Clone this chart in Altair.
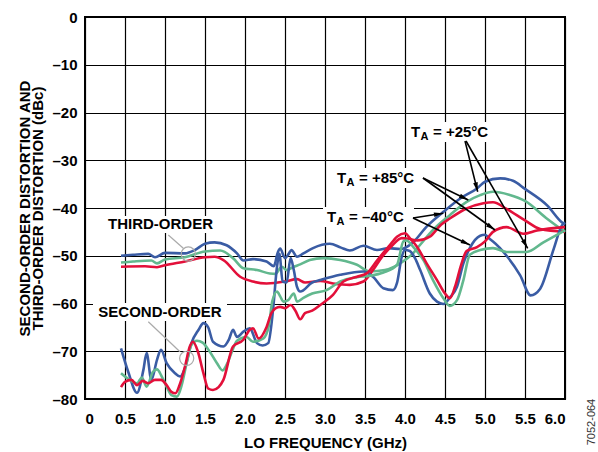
import math
import altair as alt
import pandas as pd

# ---------------- data ----------------
# Third-order distortion
t3_m40_ghz = [0.45, 0.6, 0.79, 0.875, 1.0, 1.25, 1.375, 1.5, 1.62, 1.77, 1.9, 1.98, 2.1, 2.27, 2.36, 2.41, 2.44, 2.5, 2.55, 2.58, 2.65, 2.73, 2.85, 3.06, 3.2, 3.31, 3.48, 3.65, 3.8, 3.94, 4.1, 4.27, 4.48, 4.69, 4.9, 5.0, 5.19, 5.35, 5.5, 5.78, 5.96, 6.0]
t3_m40_dbc = [-50.0, -49.8, -49.6, -50.3, -49.4, -49.5, -48.8, -47.5, -47.2, -47.8, -49.5, -51.0, -50.7, -51.2, -52.2, -49.3, -48.5, -50.5, -49.5, -48.8, -50.2, -49.5, -48.4, -47.5, -48.3, -48.9, -47.9, -48.8, -48.4, -48.6, -47.2, -43.9, -40.8, -38.0, -35.9, -34.5, -33.8, -34.3, -36.0, -39.5, -43.0, -43.5]

t3_p25_ghz = [0.45, 0.6, 0.83, 0.9, 1.0, 1.25, 1.5, 1.69, 1.85, 1.98, 2.15, 2.31, 2.38, 2.46, 2.52, 2.6, 2.69, 2.81, 2.98, 3.19, 3.4, 3.56, 3.75, 3.94, 4.1, 4.19, 4.35, 4.56, 4.77, 4.94, 5.1, 5.3, 5.5, 5.78, 6.0]
t3_p25_dbc = [-51.4, -51.2, -51.0, -51.6, -50.8, -50.3, -49.1, -48.9, -50.5, -52.6, -53.0, -53.7, -53.8, -52.3, -53.0, -52.4, -51.8, -50.9, -50.5, -50.9, -51.9, -53.3, -53.0, -51.6, -49.5, -47.7, -44.6, -41.5, -38.7, -37.3, -36.6, -37.2, -38.5, -42.3, -45.0]

t3_p85_ghz = [0.45, 0.75, 0.9, 1.0, 1.25, 1.5, 1.62, 1.73, 1.94, 2.1, 2.27, 2.5, 2.65, 2.75, 2.94, 3.1, 3.31, 3.48, 3.6, 3.71, 3.83, 3.96, 4.06, 4.15, 4.31, 4.45, 4.56, 4.77, 4.98, 5.1, 5.27, 5.5, 5.69, 6.0]
t3_p85_dbc = [-52.3, -52.2, -52.4, -52.0, -51.2, -50.3, -50.2, -50.9, -54.4, -55.4, -55.8, -55.4, -54.9, -55.6, -55.3, -55.8, -56.1, -55.4, -53.0, -50.3, -48.0, -46.3, -46.5, -46.8, -46.0, -43.5, -42.2, -40.1, -39.0, -38.8, -40.2, -42.6, -44.4, -45.0]

# Second-order distortion
t2_m40_ghz = [0.45, 0.54, 0.65, 0.73, 0.77, 0.83, 0.9, 0.95, 1.02, 1.125, 1.19, 1.25, 1.33, 1.42, 1.48, 1.54, 1.6, 1.73, 1.8, 1.85, 1.9, 1.98, 2.06, 2.15, 2.22, 2.29, 2.35, 2.4, 2.43, 2.47, 2.52, 2.57, 2.61, 2.65, 2.69, 2.84, 2.94, 3.19, 3.48, 3.6, 3.73, 3.85, 3.9, 3.96, 4.0, 4.06, 4.125, 4.19, 4.31, 4.4, 4.48, 4.56, 4.65, 4.73, 4.81, 4.94, 5.0, 5.06, 5.1, 5.27, 5.44, 5.57, 5.69, 5.86, 5.96, 6.0]
t2_m40_dbc = [-69.4, -74.3, -78.7, -73.9, -70.4, -76.0, -71.8, -69.7, -72.5, -74.6, -75.3, -73.5, -68.3, -65.5, -64.1, -65.0, -68.0, -69.0, -67.5, -65.5, -67.0, -65.9, -65.2, -68.3, -68.8, -68.3, -61.4, -52.3, -49.6, -55.4, -55.6, -50.5, -53.0, -56.5, -57.5, -55.6, -55.1, -54.0, -53.3, -54.4, -56.8, -57.2, -55.7, -50.2, -48.8, -49.0, -50.5, -53.0, -57.9, -59.6, -60.1, -58.8, -56.5, -51.6, -48.4, -45.8, -45.6, -46.5, -47.0, -50.0, -54.1, -58.3, -56.9, -48.5, -43.7, -43.0]

t2_p25_ghz = [0.45, 0.56, 0.65, 0.71, 0.77, 0.85, 0.9, 0.96, 1.02, 1.08, 1.15, 1.21, 1.27, 1.33, 1.4, 1.47, 1.56, 1.65, 1.72, 1.78, 1.85, 1.9, 2.02, 2.1, 2.23, 2.3, 2.34, 2.4, 2.44, 2.48, 2.54, 2.61, 2.65, 2.73, 2.84, 3.02, 3.19, 3.4, 3.56, 3.73, 3.9, 3.98, 4.02, 4.1, 4.15, 4.23, 4.35, 4.48, 4.56, 4.65, 4.73, 4.81, 4.94, 5.1, 5.27, 5.52, 5.73, 6.0]
t2_p25_dbc = [-74.6, -76.0, -76.7, -75.5, -77.4, -74.3, -73.8, -75.3, -77.4, -79.2, -79.5, -77.0, -72.5, -68.7, -67.8, -68.2, -70.1, -72.5, -74.0, -72.5, -69.5, -67.8, -67.0, -68.0, -67.3, -64.5, -59.6, -57.5, -58.5, -59.6, -59.3, -57.9, -59.6, -58.8, -57.9, -57.2, -55.4, -54.5, -54.2, -53.5, -51.9, -47.0, -46.8, -48.1, -49.1, -50.9, -55.1, -58.9, -60.5, -59.3, -55.1, -49.8, -48.8, -48.4, -49.2, -49.2, -47.2, -44.7]

t2_p85_ghz = [0.45, 0.5, 0.58, 0.65, 0.72, 0.79, 0.875, 0.95, 1.02, 1.08, 1.13, 1.19, 1.25, 1.31, 1.35, 1.41, 1.48, 1.54, 1.6, 1.67, 1.73, 1.85, 1.98, 2.06, 2.1, 2.17, 2.27, 2.33, 2.38, 2.44, 2.5, 2.57, 2.63, 2.69, 2.75, 2.84, 2.94, 3.1, 3.23, 3.4, 3.52, 3.65, 3.8, 3.9, 4.0, 4.06, 4.15, 4.27, 4.4, 4.5, 4.56, 4.625, 4.7, 4.77, 4.9, 5.0, 5.1, 5.27, 5.48, 5.65, 6.0]
t2_p85_dbc = [-77.5, -76.4, -76.0, -77.1, -76.2, -76.7, -76.0, -76.0, -77.1, -78.5, -78.8, -76.7, -73.2, -69.0, -68.0, -70.0, -74.6, -77.8, -78.1, -77.5, -76.0, -69.0, -67.6, -65.5, -65.2, -67.3, -64.9, -62.0, -61.0, -60.7, -61.0, -60.3, -61.5, -63.3, -62.0, -61.5, -60.3, -58.2, -55.4, -54.4, -53.7, -51.0, -48.0, -46.0, -45.3, -46.3, -48.1, -51.6, -55.1, -57.9, -58.9, -56.5, -52.0, -49.0, -48.2, -47.0, -45.0, -44.0, -45.4, -44.7, -44.0]

series_names = ["T3 -40C", "T3 +25C", "T3 +85C", "T2 -40C", "T2 +25C", "T2 +85C"]
series_colors = ["#3a5ca4", "#62b88e", "#e3103a", "#3a5ca4", "#62b88e", "#e3103a"]
series_x = [t3_m40_ghz, t3_p25_ghz, t3_p85_ghz, t2_m40_ghz, t2_p25_ghz, t2_p85_ghz]
series_y = [t3_m40_dbc, t3_p25_dbc, t3_p85_dbc, t2_m40_dbc, t2_p25_dbc, t2_p85_dbc]

x_ticks = [0, 0.5, 1.0, 1.5, 2.0, 2.5, 3.0, 3.5, 4.0, 4.5, 5.0, 5.5, 6.0]
y_ticks = [0, -10, -20, -30, -40, -50, -60, -70, -80]

rows = []
for name, xs, ys in zip(series_names, series_x, series_y):
    for i, (xv, yv) in enumerate(zip(xs, ys)):
        rows.append({"series": name, "ghz": xv, "dbc": yv, "seq": i})
df = pd.DataFrame(rows)

# ---------------- layout helpers for annotations ----------------
W, H = 480, 382
PXG = W / 6.0        # px per GHz
PXD = H / 80.0       # px per dB


def gx(px):
    return (px - 85) / PXG


def gy(py):
    return -(py - 17) / PXD


FONT = "Liberation Sans"
XS = alt.Scale(domain=[0, 6], nice=False, zero=False)
YS = alt.Scale(domain=[-80, 0], nice=False, zero=False)

x_axis = alt.Axis(values=x_ticks, labelExpr="datum.value == 0 ? '0' : format(datum.value, '.1f')",
                  grid=True, ticks=False, domain=False, labelFont=FONT, labelFontSize=15,
                  labelFontWeight="bold", labelColor="black", labelPadding=12,
                  titleFont=FONT, titleFontSize=15, titleFontWeight="bold", titleColor="black",
                  titlePadding=9, gridColor="black", gridWidth=1.2, gridOpacity=1)
y_axis = alt.Axis(values=y_ticks, labelExpr="datum.value == 0 ? '0' : '–' + abs(datum.value)",
                  grid=True, ticks=False, domain=False, labelFont=FONT, labelFontSize=15,
                  labelFontWeight="bold", labelColor="black", labelPadding=8,
                  titleFont=FONT, titleFontSize=15, titleFontWeight="bold", titleColor="black",
                  titlePadding=6, titleLineHeight=13, gridColor="black", gridWidth=1.2, gridOpacity=1)
X_TITLE = "LO FREQUENCY (GHz)"
Y_TITLE = ["SECOND-ORDER DISTORTION AND", "THIRD-ORDER DISTORTION (dBc)"]


def X(field="ghz"):
    return alt.X(f"{field}:Q", scale=XS, axis=x_axis, title=X_TITLE)


def Y(field="dbc"):
    return alt.Y(f"{field}:Q", scale=YS, axis=y_axis, title=Y_TITLE)


# white label backgrounds
boxes = pd.DataFrame({
    "ghz": [gx(p) for p in [103, 93, 408, 333, 323]],
    "ghz2": [gx(p) for p in [218, 227, 497, 424, 414]],
    "dbc": [gy(p) for p in [216, 303, 122, 168, 207]],
    "dbc2": [gy(p) for p in [233, 321, 142, 188, 227]],
})

# arrows (data coordinates)
arr_x1 = [gx(465), gx(466), gx(423), gx(423), gx(413), gx(413)]
arr_y1 = [gy(141), gy(141), gy(178), gy(178), gy(218), gy(218)]
arr_x2 = [gx(477.7), gx(527.7), gx(468.3), gx(495), gx(443.3), gx(470)]
arr_y2 = [gy(191.7), gy(248.3), gy(200), gy(230), gy(213.3), gy(245)]
heads = []
for a, b, c, d in zip(arr_x1, arr_y1, arr_x2, arr_y2):
    sdx = (c - a) * PXG
    sdy = -(d - b) * PXD
    L = math.hypot(sdx, sdy)
    ang = math.degrees(math.atan2(sdx, -sdy)) % 360
    back = 5.5
    hx = c - (sdx / L) * back / PXG
    hy = d + (sdy / L) * back / PXD
    heads.append({"ghz": hx, "dbc": hy, "ang": ang})
arrows = pd.DataFrame({"ghz": arr_x1, "dbc": arr_y1, "ghz2": arr_x2, "dbc2": arr_y2})
heads = pd.DataFrame(heads)

# leader lines + circles for order labels
leaders = pd.DataFrame({
    "ghz": [gx(168.3), gx(148.3)], "dbc": [gy(235), gy(321.7)],
    "ghz2": [gx(183.3), gx(180)], "dbc2": [gy(248.3), gy(351.7)],
})
circles = pd.DataFrame({"ghz": [gx(188.3), gx(186.7)], "dbc": [gy(254), gy(358.3)]})
order_labels = pd.DataFrame({"ghz": [gx(160.5), gx(160)], "dbc": [gy(224), gy(312)],
                             "txt": ["THIRD-ORDER", "SECOND-ORDER"]})

temp_labels = pd.DataFrame({
    "ghz": [gx(411), gx(337), gx(327)],
    "dbc": [gy(131.5), gy(178), gy(217)],
    "txt": ["= +25°C", "= +85°C", "= –40°C"],
})

# ---------------- chart ----------------
bg = alt.Chart(boxes).mark_rect(fill="white").encode(
    x=X(), x2="ghz2:Q", y=Y(), y2="dbc2:Q",
)

lines = alt.Chart(df).mark_line(interpolate="monotone", strokeWidth=2.6).encode(
    x=X(), y=Y(),
    color=alt.Color("series:N", scale=alt.Scale(domain=series_names, range=series_colors), legend=None),
    detail="series:N",
    order="seq:Q",
)

leader_rules = alt.Chart(leaders).mark_rule(color="#aaaaaa", strokeWidth=1.2).encode(
    x=X(), y=Y(), x2="ghz2:Q", y2="dbc2:Q")
circle_pts = alt.Chart(circles).mark_point(shape="circle", size=200, color="#aaaaaa",
                                           strokeWidth=1.2, filled=False, opacity=1).encode(x=X(), y=Y())
order_text = alt.Chart(order_labels).mark_text(font=FONT, fontSize=15, fontWeight="bold",
                                               align="center", baseline="middle", color="black").encode(
    x=X(), y=Y(), text="txt:N")

arrow_rules = alt.Chart(arrows).mark_rule(color="black", strokeWidth=1.6).encode(
    x=X(), y=Y(), x2="ghz2:Q", y2="dbc2:Q")
arrow_heads = alt.Chart(heads).mark_point(shape="M0,-1L0.42,0.7L-0.42,0.7Z", size=121, filled=True,
                                          color="black", opacity=1, strokeWidth=0).encode(
    x=X(), y=Y(), angle=alt.Angle("ang:Q", scale=None))

t_text = alt.Chart(temp_labels).mark_text(text="T", font=FONT, fontSize=15, fontWeight="bold",
                                          align="left", baseline="middle", color="black").encode(x=X(), y=Y())
a_text = alt.Chart(temp_labels).mark_text(text="A", font=FONT, fontSize=11, fontWeight="bold",
                                          align="left", baseline="middle", color="black",
                                          dx=9.5, dy=5).encode(x=X(), y=Y())
rest_text = alt.Chart(temp_labels).mark_text(font=FONT, fontSize=15, fontWeight="bold",
                                             align="left", baseline="middle", color="black",
                                             dx=22).encode(x=X(), y=Y(), text="txt:N")

note = alt.Chart(pd.DataFrame({"ghz": [gx(592)], "dbc": [gy(422)], "txt": ["7052-064"]})).mark_text(
    font=FONT, fontSize=11, angle=270, align="center", baseline="middle", color="#333333").encode(
    x=X(), y=Y(), text="txt:N")

chart = alt.layer(bg, lines, leader_rules, circle_pts, order_text, arrow_rules, arrow_heads,
                  t_text, a_text, rest_text, note).properties(
    width=W, height=H,
    background="white",
    autosize=alt.AutoSizeParams(type="none"),
    padding={"left": 85, "top": 17, "right": 33, "bottom": 53},
).configure_view(stroke="black", strokeWidth=2)

chart.save("out.html", embed_options={"renderer": "svg", "actions": False})
